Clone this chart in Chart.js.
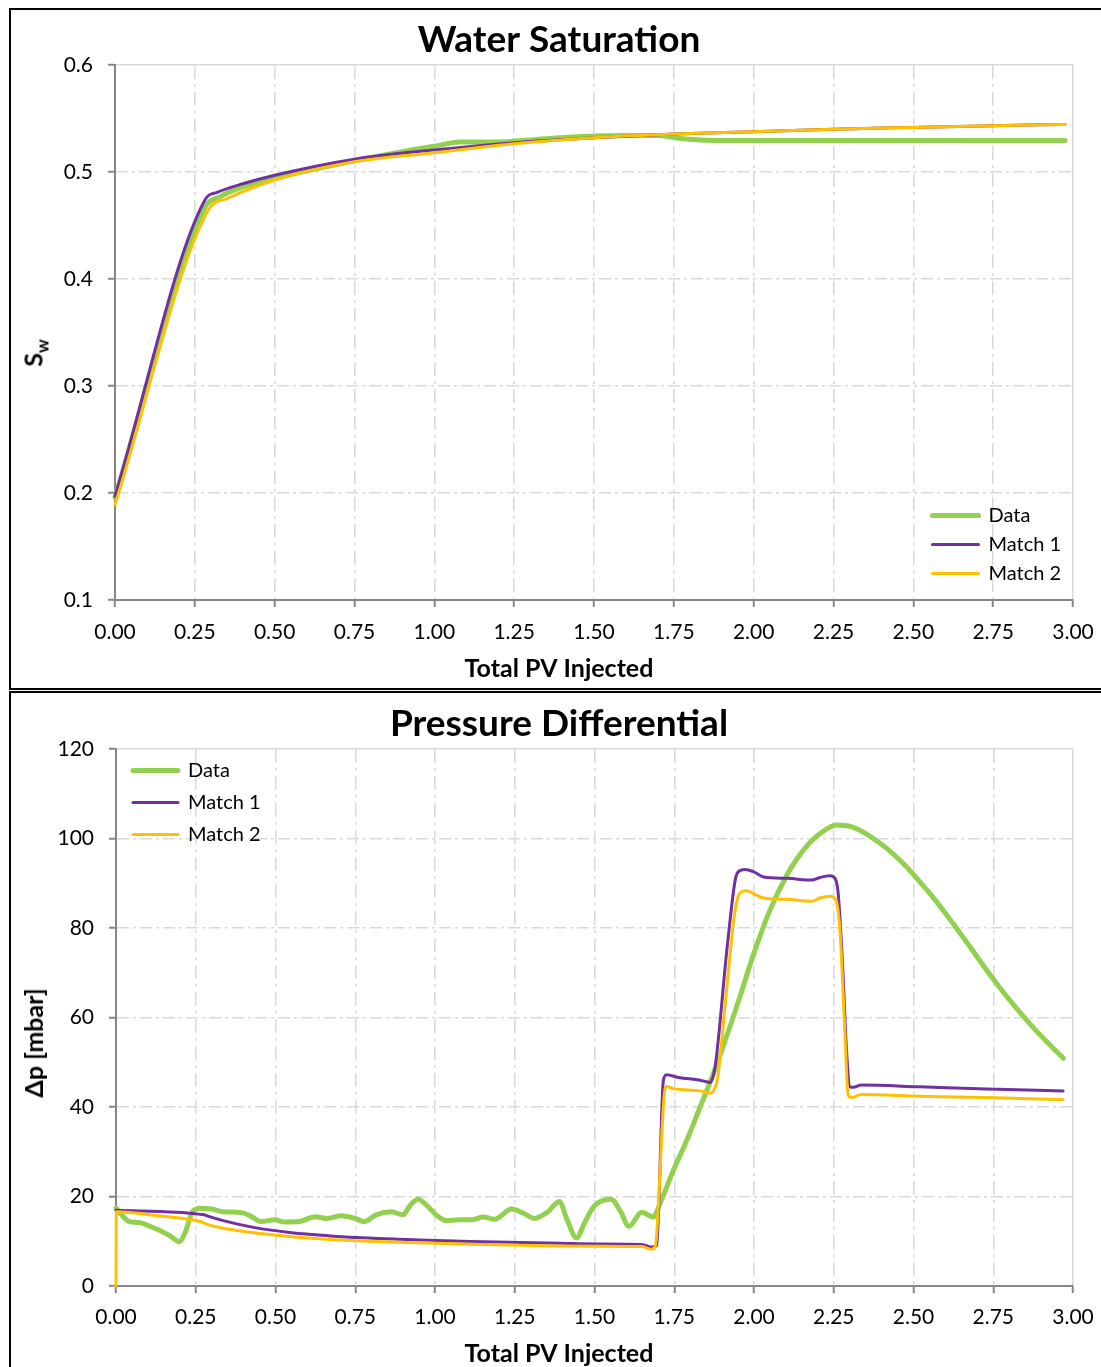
<!DOCTYPE html>
<html>
<head>
<meta charset="utf-8">
<script src="https://cdn.jsdelivr.net/npm/chart.js@4.4.1/dist/chart.umd.min.js"></script>
<style>
html, body { margin: 0; padding: 0; background: #fff; overflow: hidden; }
body { width: 1101px; height: 1367px; position: relative; font-family: Lato, "Open Sans", sans-serif; }
.panel { position: absolute; left: 9px; width: 1100px; border: 2px solid #000; border-right: none; }
#p1 { top: 8px; height: 678px; }
#p2 { top: 691px; height: 676px; border-bottom: none; }
canvas { display: block; }
.ylab { position: absolute; transform: translate(-50%, -50%) rotate(-90deg);
  font: bold 25px Lato, "Open Sans", "DejaVu Sans", sans-serif; white-space: nowrap; color: #000; }
.ylab sub { font-size: 17px; }
#swlab { left: 24px; top: 343px; }
#dplab { left: 22px; top: 350px; }
</style>
</head>
<body>
<div class="panel" id="p1">
  <canvas id="swChart" width="1098" height="678"></canvas>
  <div class="ylab" id="swlab">S<sub>w</sub></div>
</div>
<div class="panel" id="p2">
  <canvas id="dpChart" width="1098" height="676"></canvas>
  <div class="ylab" id="dplab">Δp [mbar]</div>
</div>
<script>
// axis ticks
const xTicks = [0, 0.25, 0.5, 0.75, 1, 1.25, 1.5, 1.75, 2, 2.25, 2.5, 2.75, 3];
const swTicks = [0.1, 0.2, 0.3, 0.4, 0.5, 0.6];
const dpTicks = [0, 20, 40, 60, 80, 100, 120];
const seriesNames = ['Data', 'Match 1', 'Match 2'];

// water saturation
const swDataX = [0, 0.28, 0.33, 0.4, 0.5, 0.6, 0.75, 0.9, 1.0, 1.08, 1.2, 1.3, 1.45, 1.6, 1.7, 1.78, 1.88, 2.2, 2.6, 2.975];
const swData = [0.196, 0.466, 0.477, 0.486, 0.494, 0.501, 0.5105, 0.519, 0.524, 0.528, 0.528, 0.530, 0.533, 0.534, 0.534, 0.531, 0.5295, 0.5295, 0.5295, 0.5295];
const swM1X = [0, 0.282, 0.32, 0.4, 0.5, 0.75, 1.0, 1.25, 1.5, 1.75, 2.0, 2.25, 2.5, 2.75, 2.975];
const swM1 = [0.197, 0.474, 0.481, 0.489, 0.497, 0.512, 0.5206, 0.5274, 0.532, 0.5355, 0.5377, 0.540, 0.5417, 0.5433, 0.5445];
const swM2X = [0, 0.292, 0.35, 0.5, 0.75, 1.0, 1.25, 1.5, 1.75, 2.0, 2.25, 2.5, 2.75, 2.975];
const swM2 = [0.189, 0.4645, 0.475, 0.4925, 0.5097, 0.518, 0.5265, 0.532, 0.5355, 0.5377, 0.540, 0.5417, 0.5433, 0.5445];

// pressure differential
const dpDataX = [0, 0.042, 0.072, 0.108, 0.144, 0.174, 0.198, 0.216, 0.240, 0.264, 0.300, 0.336, 0.395, 0.425, 0.455, 0.497, 0.527, 0.575, 0.623, 0.659, 0.707, 0.749, 0.779, 0.815, 0.863, 0.899, 0.923, 0.947, 0.977, 1.007, 1.037, 1.073, 1.115, 1.151, 1.187, 1.240, 1.276, 1.312, 1.354, 1.390, 1.414, 1.444, 1.468, 1.498, 1.552, 1.582, 1.608, 1.648, 1.684, 1.705, 1.747, 1.789, 1.831, 1.873, 1.946, 1.998, 2.050, 2.103, 2.155, 2.207, 2.259, 2.311, 2.364, 2.416, 2.468, 2.520, 2.572, 2.624, 2.677, 2.729, 2.781, 2.833, 2.885, 2.937, 2.970];
const dpData = [17.4, 14.4, 14.2, 13.3, 12.2, 11.0, 9.9, 11.8, 16.6, 17.4, 17.2, 16.6, 16.4, 15.5, 14.4, 14.8, 14.3, 14.4, 15.5, 15.1, 15.7, 15.1, 14.4, 15.9, 16.6, 15.9, 18.1, 19.4, 17.8, 15.7, 14.6, 14.8, 14.8, 15.4, 14.9, 17.2, 16.3, 15.1, 16.6, 18.9, 14.8, 10.7, 14.0, 17.8, 19.4, 16.6, 13.3, 16.5, 15.4, 18.4, 25.8, 32.5, 40.0, 47.5, 62.5, 74.0, 84.0, 91.8, 97.4, 101.1, 103.0, 102.5, 100.5, 97.8, 94.4, 90.3, 85.9, 81.0, 75.8, 70.6, 65.7, 61.2, 57.0, 53.2, 50.9];
const dpM1X = [0, 0.276, 0.288, 0.336, 0.431, 0.551, 0.671, 0.791, 0.911, 1.031, 1.151, 1.270, 1.390, 1.510, 1.648, 1.678, 1.695, 1.716, 1.726, 1.763, 1.831, 1.862, 1.878, 1.915, 1.941, 1.951, 1.972, 1.998, 2.030, 2.103, 2.181, 2.207, 2.238, 2.254, 2.264, 2.278, 2.290, 2.301, 2.311, 2.337, 2.520, 2.729, 2.969];
const dpM1 = [16.9, 15.9, 15.6, 14.6, 13.1, 11.9, 11.2, 10.7, 10.4, 10.1, 9.9, 9.7, 9.55, 9.4, 9.3, 8.7, 9.0, 46.0, 47.2, 46.6, 46.0, 45.5, 49.0, 75.1, 90.7, 92.6, 93.1, 92.6, 91.4, 91.1, 90.7, 91.3, 91.7, 91.1, 87.7, 71.3, 52.7, 44.5, 44.4, 44.9, 44.5, 44.0, 43.6];
const dpM2X = [0, 0.001, 0.132, 0.264, 0.288, 0.336, 0.431, 0.551, 0.671, 0.791, 0.911, 1.031, 1.151, 1.270, 1.390, 1.510, 1.648, 1.678, 1.690, 1.720, 1.726, 1.747, 1.831, 1.862, 1.874, 1.886, 1.915, 1.941, 1.957, 1.977, 1.998, 2.030, 2.103, 2.181, 2.207, 2.238, 2.257, 2.270, 2.285, 2.295, 2.306, 2.337, 2.520, 2.729, 2.969];
const dpM2 = [0, 16.6, 15.7, 14.4, 13.7, 12.9, 11.9, 11.0, 10.4, 10.0, 9.7, 9.5, 9.25, 9.1, 8.95, 8.9, 8.8, 8.2, 8.7, 43.6, 44.6, 44.1, 43.6, 43.1, 43.7, 46.5, 66.9, 84.0, 87.9, 88.3, 87.7, 86.7, 86.4, 86.0, 86.7, 87.1, 86.2, 78.8, 56.4, 42.7, 42.1, 42.8, 42.4, 42.1, 41.6];

const GREEN = '#92d050', PURPLE = '#7030a0', GOLD = '#ffc000';
const GRID = '#d9d9d9', AXIS = '#868686';
const FONT = "Lato, 'Open Sans', 'DejaVu Sans', sans-serif";

Chart.defaults.font.family = FONT;
Chart.defaults.color = '#000';

const pts = (xs, ys) => xs.map((x, i) => ({ x: x, y: ys[i] }));

// moves the legend box to a fixed spot inside the plot
const legendSpot = {
  id: 'legendSpot',
  afterLayout(chart, args, opts) {
    const lg = chart.legend;
    if (!lg) return;
    const w = lg.width, h = lg.height;
    lg.left = opts.left; lg.top = opts.top;
    lg.right = opts.left + w; lg.bottom = opts.top + h;
  }
};

function line(label, data, color, width, order) {
  return {
    label: label, data: data, borderColor: color, backgroundColor: color,
    borderWidth: width, order: order, pointRadius: 0, pointHoverRadius: 0,
    cubicInterpolationMode: 'monotone', borderCapStyle: 'round', borderJoinStyle: 'round',
    fill: false, clip: 8
  };
}

function makeChart(id, o) {
  const yMin = o.yTicks[0], yMax = o.yTicks[o.yTicks.length - 1];
  return new Chart(id, {
    type: 'line',
    data: { datasets: o.datasets },
    plugins: [legendSpot],
    options: {
      responsive: false,
      animation: false,
      events: [],
      layout: { padding: o.padding },
      plugins: {
        title: { display: true, text: o.title, color: '#000',
          font: { size: 37, weight: 'bold' }, padding: o.titlePad },
        // x axis caption, centred on the whole panel like the original
        subtitle: { display: true, position: 'bottom', text: 'Total PV Injected', color: '#000',
          font: { size: 25, weight: 'bold' }, padding: 0 },
        legend: {
          position: 'chartArea', align: 'start',
          labels: {
            usePointStyle: true, pointStyleWidth: o.legendLine, padding: o.legendPad,
            color: '#000', font: { size: 20 },
            generateLabels: chart => chart.data.datasets.map((ds, i) => ({
              text: ds.label, strokeStyle: ds.borderColor, fillStyle: ds.borderColor,
              lineWidth: ds.borderWidth, lineCap: 'round', pointStyle: 'line',
              fontColor: '#000', datasetIndex: i
            }))
          }
        },
        legendSpot: o.legendAt,
        tooltip: { enabled: false }
      },
      scales: {
        x: {
          type: 'linear', min: 0, max: 3,
          afterBuildTicks: s => { s.ticks = xTicks.map(v => ({ value: v })); },
          afterFit: s => { s.height = o.xHeight; },
          ticks: { callback: v => v.toFixed(2), font: { size: 21 }, color: '#000',
            padding: o.xPad, maxRotation: 0, autoSkip: false },
          grid: { color: c => (c.tick && c.tick.value === 0) ? 'rgba(0,0,0,0)' : GRID,
            lineWidth: 1.5, tickLength: 7, tickColor: AXIS, tickWidth: 2 },
          border: { color: AXIS, width: 2,
            dash: c => (c.tick && c.tick.value === 3) ? [] : [14, 5, 3, 5] },
          title: { display: false }
        },
        y: {
          type: 'linear', min: yMin, max: yMax,
          afterBuildTicks: s => { s.ticks = o.yTicks.map(v => ({ value: v })); },
          afterFit: s => { s.width = o.yWidth; },
          ticks: { callback: o.yFmt, font: { size: 21 }, color: '#000', padding: 15 },
          grid: { color: c => (c.tick && c.tick.value === yMin) ? 'rgba(0,0,0,0)' : GRID,
            lineWidth: 1.5, tickLength: 7, tickColor: AXIS, tickWidth: 2 },
          border: { color: AXIS, width: 2,
            dash: c => (c.tick && c.tick.value === yMax) ? [] : [12, 4, 3, 4] },
          title: { display: false }
        }
      }
    }
  });
}

makeChart('swChart', {
  title: 'Water Saturation',
  titlePad: { top: 3, bottom: 2.6 },
  padding: { left: 34, right: 36, top: 5, bottom: 4 },
  yTicks: swTicks, yFmt: v => v.toFixed(1), yWidth: 70,
  xHeight: 54, xPad: 13,
  legendLine: 46, legendPad: 9, legendAt: { left: 912.5, top: 486.5 },
  datasets: [
    line(seriesNames[0], pts(swDataX, swData), GREEN, 5, 3),
    line(seriesNames[1], pts(swM1X, swM1), PURPLE, 3, 2),
    line(seriesNames[2], pts(swM2X, swM2), GOLD, 3, 1)
  ]
});

makeChart('dpChart', {
  title: 'Pressure Differential',
  titlePad: { top: 4, bottom: 2.6 },
  padding: { left: 34, right: 36, top: 5, bottom: 0 },
  yTicks: dpTicks, yFmt: v => String(v), yWidth: 71,
  xHeight: 53, xPad: 12,
  legendLine: 45, legendPad: 12, legendAt: { left: 110, top: 55.5 },
  datasets: [
    line(seriesNames[0], pts(dpDataX, dpData), GREEN, 5, 3),
    line(seriesNames[1], pts(dpM1X, dpM1), PURPLE, 3, 2),
    line(seriesNames[2], pts(dpM2X, dpM2), GOLD, 3, 1)
  ]
});
</script>
</body>
</html>
